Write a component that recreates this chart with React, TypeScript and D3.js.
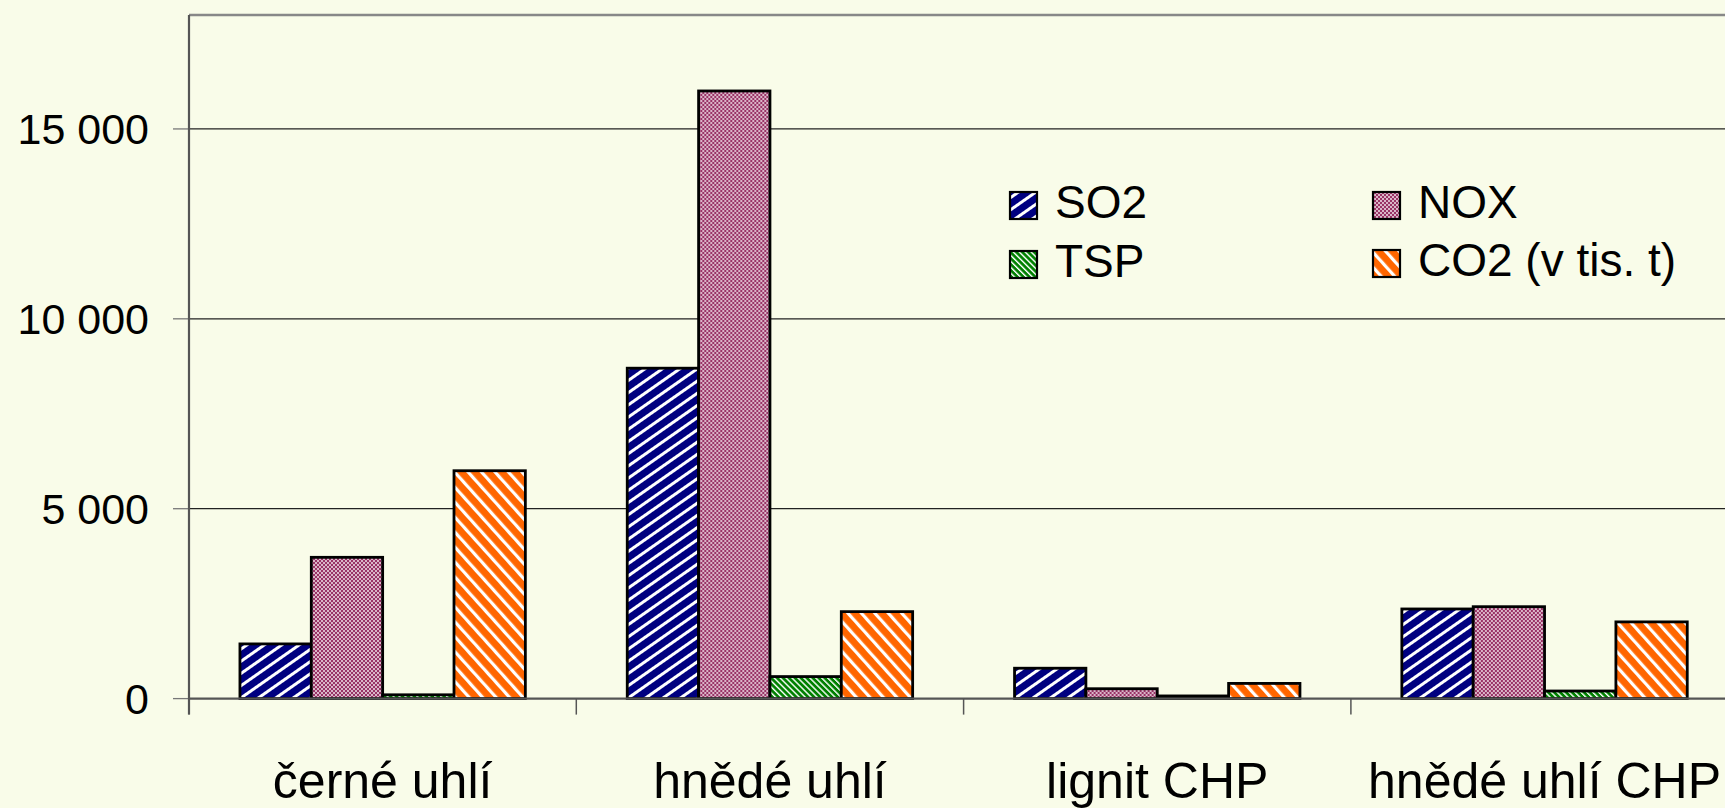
import React, { useEffect } from "react";
import * as d3 from "d3";

const categories = ["černé uhlí", "hnědé uhlí", "lignit CHP", "hnědé uhlí CHP"];
const seriesNames = ["SO2", "NOX", "TSP", "CO2 (v tis. t)"];
const so2 = [1440, 8700, 800, 2360];
const nox = [3720, 16000, 260, 2420];
const tsp = [100, 580, 70, 200];
const co2 = [6000, 2290, 400, 2020];
const yTicks = [0, 5000, 10000, 15000];
const yMax = 18000;

const seriesValues = [so2, nox, tsp, co2];
const patternIds = ["pSO2", "pNOX", "pTSP", "pCO2"];

const W = 1725;
const H = 808;
const plotLeft = 189;
const plotTop = 15;
const plotBottom = 698.6;
const step = 387.3;

const fmt = (v: number) => d3.format(",")(v).replace(/,/g, " ");

export default function App() {
  useEffect(() => {
    document.body.style.margin = "0";
    document.body.style.overflow = "hidden";
  }, []);

  const x = d3
    .scaleBand<string>()
    .domain(categories)
    .range([plotLeft, plotLeft + step * categories.length])
    .paddingInner(0)
    .paddingOuter(0);
  const xs = d3
    .scaleBand<string>()
    .domain(seriesNames)
    .range([0, x.bandwidth()])
    .paddingInner(0)
    .paddingOuter(0.714);
  const y = d3.scaleLinear().domain([0, yMax]).range([plotBottom, plotTop]);

  const font = "'Liberation Sans', Arial, Helvetica, sans-serif";

  const legendItems = [
    { i: 0, sx: 1010, tx: 1055, base: 218 },
    { i: 1, sx: 1373, tx: 1418, base: 218 },
    { i: 2, sx: 1010, tx: 1055, base: 277 },
    { i: 3, sx: 1373, tx: 1418, base: 276 },
  ];

  const boundaries = categories.map((c) => x(c) as number).concat([plotLeft + step * categories.length]);

  return (
    <svg
      width={W}
      height={H}
      style={{ position: "absolute", left: 0, top: 0, display: "block", background: "#F9FCE9" }}
    >
      <defs>
        <pattern id="pSO2" patternUnits="userSpaceOnUse" width="10" height="10" patternTransform="rotate(55)">
          <rect width="10" height="10" fill="#000080" />
          <rect x="0" y="0" width="3" height="10" fill="#ffffff" />
        </pattern>
        <pattern id="pNOX" patternUnits="userSpaceOnUse" width="4" height="4">
          <rect width="4" height="4" fill="#993366" />
          <rect x="0.2" y="0.2" width="1.6" height="1.6" fill="#ffffff" />
          <rect x="2.2" y="2.2" width="1.6" height="1.6" fill="#ffffff" />
        </pattern>
        <pattern id="pTSP" patternUnits="userSpaceOnUse" width="4.2" height="4.2" patternTransform="rotate(-45)">
          <rect width="4.2" height="4.2" fill="#008000" />
          <rect x="0" y="0" width="1.4" height="4.2" fill="#ffffff" />
        </pattern>
        <pattern id="pCO2" patternUnits="userSpaceOnUse" width="10" height="10" patternTransform="rotate(-42)">
          <rect width="10" height="10" fill="#FF6600" />
          <rect x="0" y="0" width="3.2" height="10" fill="#ffffff" />
        </pattern>
      </defs>

      {/* top border */}
      <line x1={plotLeft} x2={W} y1={plotTop} y2={plotTop} stroke="#888" strokeWidth={2.5} />

      {/* gridlines + y ticks */}
      {yTicks.map((t) => (
        <g key={"g" + t}>
          <line x1={plotLeft - 16} x2={plotLeft} y1={y(t)} y2={y(t)} stroke="#777" strokeWidth={1.3} />
          {t > 0 && (
            <line x1={plotLeft} x2={W} y1={y(t)} y2={y(t)} stroke="#222" strokeWidth={1.3} />
          )}
          <text
            x={149}
            y={y(t)}
            textAnchor="end"
            dominantBaseline="central"
            fontFamily={font}
            fontSize={43}
            fill="#000"
          >
            {fmt(t)}
          </text>
        </g>
      ))}

      {/* bars */}
      {categories.map((c, ci) => (
        <g key={c} transform={`translate(${x(c)},0)`}>
          {seriesNames.map((s, si) => {
            const v = seriesValues[si][ci];
            const y0 = y(v);
            return (
              <rect
                key={s}
                x={xs(s)}
                y={y0}
                width={xs.bandwidth()}
                height={plotBottom - y0}
                fill={`url(#${patternIds[si]})`}
                stroke="#000"
                strokeWidth={2.8}
              />
            );
          })}
        </g>
      ))}

      {/* axes */}
      <line x1={plotLeft} x2={W} y1={plotBottom} y2={plotBottom} stroke="#555" strokeWidth={2.2} />
      <line x1={plotLeft} x2={plotLeft} y1={plotTop} y2={plotBottom + 16} stroke="#555" strokeWidth={2.2} />
      {boundaries.map((b, i) => (
        <line key={"xt" + i} x1={b} x2={b} y1={plotBottom} y2={plotBottom + 16} stroke="#555" strokeWidth={1.5} />
      ))}

      {/* category labels */}
      {categories.map((c) => (
        <text
          key={"l" + c}
          x={(x(c) as number) + x.bandwidth() / 2}
          y={798}
          textAnchor="middle"
          fontFamily={font}
          fontSize={50}
          fill="#000"
        >
          {c}
        </text>
      ))}

      {/* legend */}
      {legendItems.map((it) => (
        <g key={"lg" + it.i}>
          <rect
            x={it.sx}
            y={it.base - 26}
            width={27}
            height={27}
            fill={`url(#${patternIds[it.i]})`}
            stroke="#000"
            strokeWidth={2.2}
          />
          <text x={it.tx} y={it.base} fontFamily={font} fontSize={46} fill="#000">
            {seriesNames[it.i]}
          </text>
        </g>
      ))}
    </svg>
  );
}
